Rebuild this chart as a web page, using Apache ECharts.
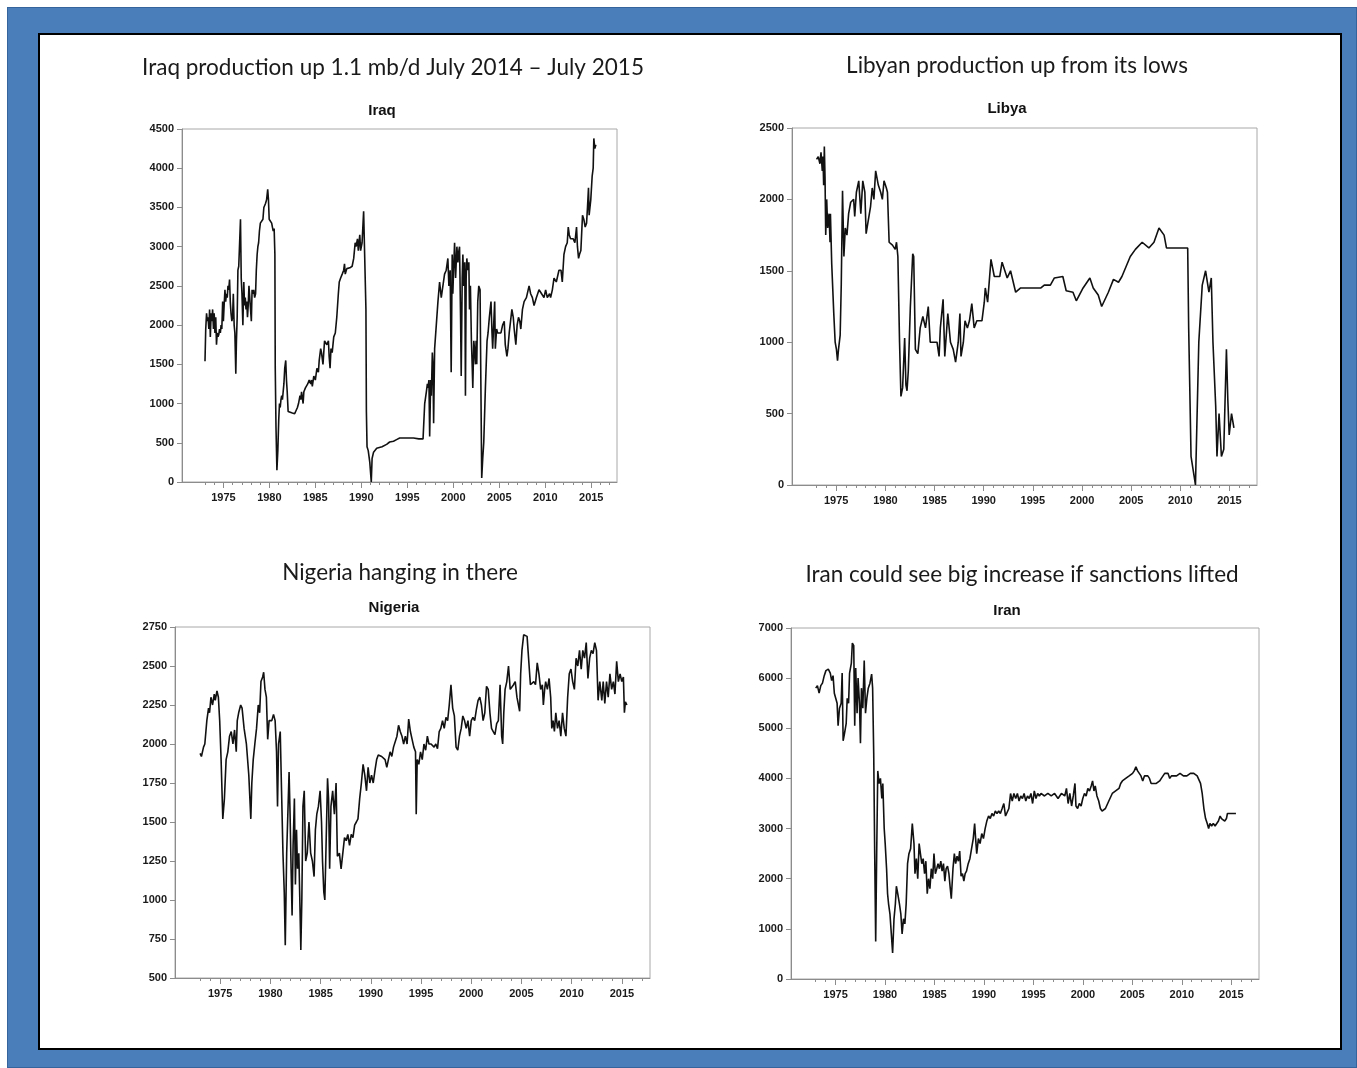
<!DOCTYPE html>
<html><head><meta charset="utf-8">
<script src="https://cdn.jsdelivr.net/npm/echarts/dist/echarts.min.js"></script>
<style>
html,body{margin:0;padding:0;background:#fff;width:1357px;height:1068px;overflow:hidden;}
#frame{position:absolute;left:7px;top:7px;width:1350px;height:1061px;background:#4a7ebb;box-shadow:inset 0 0 0 1px #35649c;}
#inner{position:absolute;left:38px;top:33px;width:1300px;height:1013px;background:#fff;border:2px solid #000;}
#chart{position:absolute;left:0;top:0;width:1357px;height:1068px;}
</style></head><body>
<div id="frame"></div><div id="inner"></div><div id="chart"></div>
<script>
// ---------- data (year, thousand b/d) ----------
const headlines = ["Iraq production up 1.1 mb/d July 2014 \u2013 July 2015","Libyan production up from its lows","Nigeria hanging in there","Iran could see big increase if sanctions lifted"];
const countries = ["Iraq","Libya","Nigeria","Iran"];
const majorYears = [1975,1980,1985,1990,1995,2000,2005,2010,2015];
const minorYears = [1973,1974,1975,1976,1977,1978,1979,1980,1981,1982,1983,1984,1985,1986,1987,1988,1989,1990,1991,1992,1993,1994,1995,1996,1997,1998,1999,2000,2001,2002,2003,2004,2005,2006,2007,2008,2009,2010,2011,2012,2013,2014,2015,2016,2017];

const iraq = [[1973.00,1540],[1973.08,1950],[1973.17,2150],[1973.25,2050],[1973.33,2100],[1973.42,1950],[1973.50,2200],[1973.58,1850],[1973.67,2150],[1973.75,2050],[1973.83,2200],[1973.92,1950],[1974.00,2150],[1974.08,1900],[1974.17,2100],[1974.25,1750],[1974.33,1900],[1974.42,1850],[1974.50,1880],[1974.58,1950],[1974.67,1900],[1974.75,2000],[1974.83,1950],[1974.92,2300],[1975.00,2050],[1975.08,2250],[1975.17,2450],[1975.25,2300],[1975.33,2400],[1975.42,2350],[1975.50,2500],[1975.58,2450],[1975.67,2580],[1975.75,2300],[1975.83,2150],[1975.92,2050],[1976.00,2100],[1976.08,2400],[1976.17,2000],[1976.25,1900],[1976.35,1380],[1976.42,1800],[1976.50,2100],[1976.58,2700],[1976.67,2750],[1976.75,3000],[1976.86,3350],[1976.94,2600],[1977.02,2400],[1977.12,2000],[1977.22,2550],[1977.30,2250],[1977.38,2350],[1977.46,2200],[1977.54,2300],[1977.62,2100],[1977.70,2250],[1977.78,2500],[1977.88,2500],[1977.96,2500],[1978.04,2050],[1978.12,2450],[1978.20,2400],[1978.30,2450],[1978.40,2350],[1978.50,2400],[1978.58,2700],[1978.67,2900],[1978.75,3000],[1978.83,3050],[1978.92,3200],[1979.02,3300],[1979.17,3300],[1979.30,3350],[1979.40,3500],[1979.58,3550],[1979.70,3600],[1979.82,3730],[1979.90,3600],[1979.98,3350],[1980.10,3350],[1980.25,3300],[1980.33,3250],[1980.42,3200],[1980.52,3230],[1980.60,2900],[1980.64,1450],[1980.72,700],[1980.82,150],[1980.92,400],[1981.02,800],[1981.10,1000],[1981.18,950],[1981.26,1050],[1981.34,1100],[1981.42,1050],[1981.50,1150],[1981.58,1250],[1981.67,1450],[1981.78,1550],[1981.86,1300],[1981.94,1150],[1982.04,900],[1982.25,900],[1982.50,880],[1982.75,870],[1982.90,860],[1983.05,950],[1983.17,1000],[1983.33,1100],[1983.42,1050],[1983.50,1150],[1983.67,1000],[1983.75,1150],[1983.92,1200],[1984.08,1200],[1984.17,1250],[1984.33,1300],[1984.50,1250],[1984.58,1300],[1984.67,1220],[1984.83,1350],[1985.00,1300],[1985.17,1450],[1985.33,1400],[1985.42,1550],[1985.58,1700],[1985.67,1650],[1985.75,1650],[1985.83,1500],[1986.00,1800],[1986.17,1800],[1986.25,1750],[1986.42,1800],[1986.50,1600],[1986.60,1450],[1986.70,1700],[1986.83,1650],[1987.00,1850],[1987.17,1900],[1987.33,2100],[1987.50,2400],[1987.60,2550],[1987.75,2600],[1987.92,2650],[1988.08,2700],[1988.17,2780],[1988.25,2650],[1988.42,2720],[1988.58,2700],[1988.75,2730],[1989.00,2750],[1989.17,2850],[1989.33,3050],[1989.42,3000],[1989.58,3100],[1989.67,2950],[1989.83,3150],[1989.92,2950],[1990.08,3050],[1990.25,3450],[1990.42,3450],[1990.50,2200],[1990.55,900],[1990.62,450],[1990.75,400],[1990.92,250],[1991.08,0],[1991.17,300],[1991.33,380],[1991.50,400],[1991.67,430],[1991.83,450],[1992.25,450],[1992.75,480],[1993.08,510],[1993.50,520],[1993.83,540],[1994.17,560],[1995.00,560],[1995.67,560],[1996.25,550],[1996.71,550],[1996.89,1000],[1997.07,1150],[1997.18,1250],[1997.25,1200],[1997.35,1300],[1997.43,580],[1997.54,1300],[1997.61,1100],[1997.72,1650],[1997.79,1500],[1997.86,750],[1997.97,1700],[1998.15,2000],[1998.33,2300],[1998.51,2550],[1998.69,2350],[1998.87,2500],[1999.05,2650],[1999.23,2700],[1999.41,2850],[1999.52,2500],[1999.66,2700],[1999.77,1400],[1999.88,2900],[1999.95,2400],[2000.03,2700],[2000.14,3050],[2000.25,2600],[2000.39,3000],[2000.50,2800],[2000.61,2950],[2000.68,3000],[2000.79,2100],[2000.86,1350],[2000.97,2600],[2001.04,2900],[2001.14,2500],[2001.25,2800],[2001.32,1100],[2001.40,2600],[2001.47,2850],[2001.58,2700],[2001.69,2800],[2001.76,2200],[2001.86,2500],[2001.97,1800],[2002.05,1500],[2002.12,1200],[2002.23,1800],[2002.30,1700],[2002.41,1500],[2002.48,1800],[2002.55,1500],[2002.66,2300],[2002.77,2500],[2002.91,2450],[2002.98,1500],[2003.09,50],[2003.20,300],[2003.31,500],[2003.49,1200],[2003.67,1800],[2003.78,1900],[2003.92,2100],[2004.10,2300],[2004.21,1900],[2004.28,1700],[2004.39,2000],[2004.50,2300],[2004.57,1700],[2004.71,1950],[2004.82,1900],[2005.18,1900],[2005.36,2000],[2005.54,2050],[2005.65,1750],[2005.83,1600],[2005.94,1700],[2006.08,1900],[2006.37,2200],[2006.52,2100],[2006.62,1950],[2006.80,1750],[2006.94,2000],[2007.09,2100],[2007.23,2050],[2007.34,1950],[2007.52,2200],[2007.70,2300],[2007.95,2350],[2008.24,2500],[2008.41,2400],[2008.60,2350],[2008.78,2250],[2009.03,2350],[2009.32,2450],[2009.60,2400],[2009.86,2350],[2010.04,2450],[2010.22,2350],[2010.47,2400],[2010.58,2350],[2010.77,2450],[2010.95,2600],[2011.20,2550],[2011.49,2700],[2011.71,2700],[2011.85,2550],[2012.03,2900],[2012.21,3000],[2012.39,3050],[2012.50,3250],[2012.61,3150],[2012.75,3100],[2013.04,3100],[2013.22,3050],[2013.40,3250],[2013.50,3000],[2013.62,2850],[2013.72,2900],[2013.87,2950],[2014.05,3400],[2014.19,3350],[2014.34,3250],[2014.49,3300],[2014.59,3500],[2014.70,3750],[2014.77,3400],[2014.95,3600],[2015.10,3900],[2015.21,4000],[2015.28,4380],[2015.39,4250],[2015.50,4300]];

const libya = [[1973.00,2280],[1973.17,2300],[1973.34,2250],[1973.45,2330],[1973.58,2200],[1973.65,2300],[1973.72,2100],[1973.79,2370],[1973.86,2150],[1973.93,1750],[1974.03,2000],[1974.13,1800],[1974.27,1900],[1974.37,1700],[1974.41,1900],[1974.54,1550],[1974.75,1200],[1974.89,1000],[1975.02,950],[1975.13,870],[1975.23,950],[1975.40,1050],[1975.51,1400],[1975.64,2060],[1975.78,1600],[1975.92,1800],[1976.09,1750],[1976.26,1900],[1976.47,1980],[1976.77,2000],[1976.88,1880],[1977.05,2050],[1977.29,2130],[1977.50,1900],[1977.70,2130],[1977.91,2050],[1978.04,1760],[1978.25,1850],[1978.49,1950],[1978.66,2080],[1978.83,2000],[1979.01,2200],[1979.28,2100],[1979.52,2050],[1979.69,2000],[1979.86,2130],[1980.10,2080],[1980.21,2050],[1980.38,1700],[1980.72,1680],[1981.00,1650],[1981.13,1700],[1981.27,1600],[1981.44,1000],[1981.58,620],[1981.75,680],[1981.96,1030],[1982.09,700],[1982.20,660],[1982.33,800],[1982.54,1250],[1982.78,1620],[1982.88,1600],[1983.05,950],[1983.30,920],[1983.54,1100],[1983.81,1180],[1984.08,1100],[1984.36,1250],[1984.56,1000],[1985.25,1000],[1985.46,900],[1985.59,1100],[1985.87,1300],[1986.04,900],[1986.35,1200],[1986.62,1000],[1986.90,950],[1987.14,860],[1987.41,1000],[1987.58,1200],[1987.69,900],[1987.93,1000],[1988.10,1150],[1988.34,1100],[1988.55,1150],[1988.79,1270],[1989.03,1100],[1989.30,1150],[1989.82,1150],[1990.06,1280],[1990.16,1380],[1990.40,1280],[1990.74,1580],[1991.08,1460],[1991.63,1460],[1991.87,1560],[1992.39,1450],[1992.73,1500],[1993.25,1350],[1993.76,1380],[1995.82,1380],[1996.16,1400],[1996.78,1400],[1997.19,1450],[1998.05,1460],[1998.39,1360],[1999.08,1350],[1999.42,1290],[2000.11,1380],[2000.80,1450],[2001.14,1380],[2001.65,1330],[2002.00,1250],[2002.68,1350],[2003.20,1440],[2003.71,1420],[2004.06,1460],[2004.91,1600],[2005.43,1650],[2006.12,1700],[2006.80,1660],[2007.32,1700],[2007.83,1800],[2008.35,1750],[2008.59,1660],[2010.75,1660],[2010.85,1100],[2011.09,200],[2011.54,0],[2011.88,1000],[2012.23,1400],[2012.57,1500],[2012.91,1350],[2013.15,1450],[2013.32,1000],[2013.60,550],[2013.73,200],[2013.94,500],[2014.18,200],[2014.42,250],[2014.69,950],[2014.83,600],[2014.97,350],[2015.21,500],[2015.45,400]];

const nigeria = [[1973.00,1940],[1973.13,1920],[1973.34,1980],[1973.47,2000],[1973.67,2150],[1973.84,2230],[1973.94,2200],[1974.08,2300],[1974.24,2250],[1974.41,2320],[1974.51,2280],[1974.68,2340],[1974.82,2300],[1974.95,2150],[1975.09,1900],[1975.26,1520],[1975.42,1650],[1975.59,1900],[1975.76,1950],[1975.93,2050],[1976.10,2080],[1976.27,2000],[1976.43,2090],[1976.60,1950],[1976.70,2150],[1976.84,2200],[1977.04,2250],[1977.18,2230],[1977.38,2100],[1977.61,2000],[1977.85,1800],[1978.05,1520],[1978.15,1750],[1978.29,1900],[1978.45,2000],[1978.62,2100],[1978.79,2250],[1978.93,2200],[1979.06,2400],[1979.23,2430],[1979.33,2460],[1979.46,2350],[1979.60,2300],[1979.73,2030],[1979.87,2150],[1980.14,2150],[1980.31,2190],[1980.47,2150],[1980.61,1950],[1980.71,1600],[1980.81,2000],[1980.98,2080],[1981.11,1700],[1981.25,1300],[1981.38,1050],[1981.48,710],[1981.62,1300],[1981.75,1580],[1981.86,1820],[1981.96,1550],[1982.06,1200],[1982.16,900],[1982.26,1350],[1982.39,1650],[1982.49,1100],[1982.60,1450],[1982.70,1200],[1982.83,1300],[1982.93,1000],[1983.03,680],[1983.13,1000],[1983.24,1600],[1983.37,1700],[1983.51,1250],[1983.67,1300],[1983.84,1500],[1984.01,1300],[1984.18,1250],[1984.35,1150],[1984.48,1450],[1984.62,1550],[1984.78,1600],[1984.95,1700],[1985.09,1500],[1985.19,1250],[1985.32,1050],[1985.42,1000],[1985.56,1400],[1985.69,1780],[1985.79,1650],[1985.90,1200],[1986.03,1600],[1986.20,1700],[1986.37,1550],[1986.54,1750],[1986.67,1280],[1986.87,1300],[1987.04,1200],[1987.21,1200],[1987.38,1400],[1987.55,1380],[1987.71,1420],[1987.88,1350],[1988.05,1420],[1988.22,1400],[1988.39,1480],[1988.56,1500],[1988.72,1520],[1988.89,1650],[1989.06,1750],[1989.23,1870],[1989.40,1800],[1989.57,1700],[1989.73,1850],[1989.90,1750],[1990.07,1800],[1990.24,1750],[1990.41,1830],[1990.58,1900],[1990.74,1930],[1991.08,1920],[1991.42,1900],[1991.59,1850],[1991.75,1900],[1991.92,1950],[1992.09,1920],[1992.26,1980],[1992.60,2050],[1992.76,2120],[1992.93,2080],[1993.10,2050],[1993.27,2000],[1993.44,2050],[1993.61,2000],[1993.77,2160],[1993.94,2080],[1994.11,2030],[1994.28,1980],[1994.45,1950],[1994.52,1550],[1994.62,1900],[1994.78,1870],[1994.95,1950],[1995.12,1900],[1995.29,2000],[1995.46,1960],[1995.63,2050],[1995.79,2000],[1996.00,2000],[1996.13,2010],[1996.30,1980],[1996.47,2000],[1996.64,1970],[1996.81,2080],[1996.97,2100],[1997.14,2150],[1997.31,2100],[1997.48,2170],[1997.65,2150],[1997.81,2250],[1997.98,2380],[1998.15,2230],[1998.32,2180],[1998.49,1980],[1998.66,1960],[1998.83,2050],[1999.00,2100],[1999.16,2180],[1999.33,2150],[1999.50,2100],[1999.67,2150],[1999.84,2050],[2000.00,2150],[2000.17,2170],[2000.34,2150],[2000.51,2220],[2000.68,2280],[2000.85,2300],[2001.01,2250],[2001.18,2150],[2001.35,2200],[2001.52,2370],[2001.69,2350],[2001.86,2200],[2002.02,2100],[2002.19,2080],[2002.36,2060],[2002.53,2130],[2002.70,2150],[2002.87,2380],[2003.03,2050],[2003.13,2000],[2003.24,2200],[2003.37,2350],[2003.54,2400],[2003.71,2500],[2003.88,2350],[2004.04,2350],[2004.21,2380],[2004.38,2400],[2004.55,2300],[2004.72,2300],[2004.82,2210],[2004.92,2450],[2005.05,2600],[2005.22,2700],[2005.39,2700],[2005.56,2690],[2005.73,2700],[2005.89,2380],[2006.06,2370],[2006.23,2400],[2006.40,2380],[2006.57,2520],[2006.74,2450],[2006.91,2350],[2007.08,2380],[2007.18,2250],[2007.31,2350],[2007.41,2400],[2007.58,2350],[2007.75,2420],[2007.91,2300],[2008.02,2100],[2008.15,2150],[2008.28,2080],[2008.42,2200],[2008.59,2100],[2008.75,2150],[2008.92,2050],[2009.09,2200],[2009.26,2100],[2009.43,2050],[2009.60,2300],[2009.76,2450],[2009.93,2480],[2010.10,2400],[2010.27,2350],[2010.44,2550],[2010.61,2500],[2010.78,2600],[2010.95,2480],[2011.11,2600],[2011.28,2550],[2011.45,2650],[2011.62,2420],[2011.79,2550],[2011.96,2600],[2012.13,2580],[2012.30,2650],[2012.47,2600],[2012.63,2280],[2012.80,2400],[2013.00,2280],[2013.14,2400],[2013.30,2260],[2013.47,2400],[2013.64,2300],[2013.81,2450],[2013.98,2350],[2014.15,2400],[2014.31,2320],[2014.48,2530],[2014.65,2400],[2014.82,2450],[2014.99,2400],[2015.15,2430],[2015.25,2200],[2015.35,2270],[2015.50,2250]];

const iran = [[1973.00,5800],[1973.17,5850],[1973.34,5700],[1973.51,5850],[1973.68,5900],[1973.86,6050],[1974.03,6150],[1974.27,6180],[1974.47,6100],[1974.61,5950],[1974.75,6050],[1974.88,5700],[1975.02,5600],[1975.16,5500],[1975.26,5050],[1975.40,5400],[1975.57,5500],[1975.67,6100],[1975.77,4750],[1975.91,4900],[1976.08,5100],[1976.18,5600],[1976.32,5500],[1976.42,6100],[1976.60,6300],[1976.70,6700],[1976.84,6650],[1976.94,5050],[1977.04,6200],[1977.18,5300],[1977.28,6000],[1977.42,5500],[1977.52,4700],[1977.62,5800],[1977.76,5400],[1977.90,6350],[1978.03,5300],[1978.17,5600],[1978.31,5800],[1978.48,5900],[1978.65,6080],[1978.75,5800],[1978.86,4500],[1978.96,2500],[1979.06,750],[1979.16,2500],[1979.27,4150],[1979.40,3900],[1979.54,4000],[1979.68,3600],[1979.78,3900],[1979.92,3000],[1980.02,2700],[1980.16,2200],[1980.26,1700],[1980.36,1500],[1980.50,1300],[1980.64,900],[1980.77,520],[1980.91,1200],[1981.05,1500],[1981.15,1850],[1981.29,1700],[1981.46,1500],[1981.60,1300],[1981.73,900],[1981.87,1200],[1982.01,1100],[1982.14,1500],[1982.28,2300],[1982.42,2500],[1982.59,2600],[1982.76,3100],[1982.93,2700],[1983.03,2100],[1983.17,2400],[1983.31,2000],[1983.45,2700],[1983.58,2500],[1983.72,2300],[1983.86,2400],[1984.00,2100],[1984.13,2350],[1984.27,1700],[1984.40,2000],[1984.54,1800],[1984.68,2200],[1984.82,2000],[1984.95,2500],[1985.09,2100],[1985.23,2200],[1985.36,2300],[1985.50,2200],[1985.64,2350],[1985.77,2150],[1985.91,2300],[1986.05,1950],[1986.18,2200],[1986.32,2250],[1986.46,2100],[1986.60,1800],[1986.70,1600],[1986.87,2200],[1987.01,2500],[1987.14,2300],[1987.28,2450],[1987.42,2350],[1987.55,2550],[1987.69,2050],[1987.83,2100],[1987.97,1950],[1988.10,2100],[1988.24,2150],[1988.41,2300],[1988.58,2400],[1988.75,2600],[1988.92,2800],[1989.06,3100],[1989.16,2800],[1989.27,2500],[1989.44,2800],[1989.61,2700],[1989.78,2900],[1989.95,2800],[1990.12,3000],[1990.29,3150],[1990.47,3250],[1990.64,3200],[1990.81,3300],[1990.98,3250],[1991.15,3350],[1991.32,3300],[1991.49,3350],[1991.66,3300],[1991.84,3400],[1992.01,3500],[1992.18,3250],[1992.35,3250],[1992.52,3400],[1992.69,3700],[1992.86,3550],[1993.03,3700],[1993.21,3600],[1993.38,3700],[1993.55,3550],[1993.72,3650],[1993.89,3600],[1994.06,3700],[1994.23,3550],[1994.40,3650],[1994.58,3600],[1994.75,3700],[1994.92,3500],[1995.09,3750],[1995.26,3600],[1995.43,3700],[1995.60,3650],[1995.77,3700],[1996.12,3650],[1996.46,3700],[1996.80,3650],[1997.14,3700],[1997.49,3600],[1997.83,3700],[1998.17,3650],[1998.34,3800],[1998.51,3500],[1998.68,3700],[1998.86,3450],[1999.03,3650],[1999.20,3900],[1999.30,3450],[1999.47,3400],[1999.64,3500],[1999.82,3450],[1999.99,3600],[2000.16,3700],[2000.33,3650],[2000.50,3800],[2000.67,3750],[2000.84,3850],[2000.98,3950],[2001.12,3750],[2001.25,3850],[2001.42,3650],[2001.60,3550],[2001.77,3400],[2001.94,3350],[2002.28,3400],[2002.62,3550],[2002.97,3700],[2003.31,3750],[2003.65,3800],[2003.82,3900],[2003.99,3950],[2004.33,4000],[2004.68,4050],[2005.02,4100],[2005.19,4150],[2005.36,4230],[2005.53,4150],[2005.70,4100],[2005.87,4050],[2006.05,3950],[2006.22,4050],[2006.56,4050],[2006.73,4000],[2006.90,3900],[2007.42,3900],[2007.76,3950],[2007.93,4000],[2008.10,4050],[2008.27,4100],[2008.61,4100],[2008.78,4000],[2008.95,4050],[2009.47,4050],[2009.82,4100],[2009.99,4100],[2010.16,4050],[2010.51,4050],[2010.86,4100],[2011.21,4100],[2011.55,4050],[2011.89,3900],[2012.06,3700],[2012.23,3400],[2012.40,3200],[2012.57,3100],[2012.71,3000],[2012.84,3100],[2013.01,3050],[2013.18,3100],[2013.36,3050],[2013.53,3100],[2013.70,3150],[2013.87,3250],[2014.01,3200],[2014.21,3200],[2014.34,3150],[2014.51,3200],[2014.61,3300],[2014.96,3300],[2015.47,3300]];

const seriesData = [iraq, libya, nigeria, iran];
const yMin = [0, 0, 500, 0];
const yMax = [4500, 2500, 2750, 7000];
const yStep = [500, 500, 250, 1000];
const X_MIN = 1970.5, X_MAX = 2017.8;

// ---------- layout (pixels) ----------
const grids = [
  {left:182, top:129, width:435, height:353},
  {left:792, top:128, width:465, height:357},
  {left:175, top:627, width:475, height:351},
  {left:791, top:628, width:468, height:351}
];
const headPos = [[393,68],[1017,66],[400,573],[1022,575]];
const subPos = [[382,111],[1007,109],[394,608],[1007,611]];

const axisGray = '#8c8c8c';
const labelStyle = {fontFamily:'Liberation Sans, Arial, sans-serif', fontSize:11, fontWeight:'bold', color:'#1a1a1a'};

const xAxes = [], yAxes = [], series = [], graphics = [];
grids.forEach((g, i) => {
  xAxes.push({
    type:'value', gridIndex:i, min:X_MIN, max:X_MAX, position:'bottom',
    axisLine:{show:true, lineStyle:{color:axisGray, width:1}},
    axisTick:{show:true, customValues:majorYears, length:6, lineStyle:{color:axisGray}},
    axisLabel:Object.assign({customValues:majorYears, margin:10, formatter:v=>String(Math.round(v))}, labelStyle),
    splitLine:{show:false}
  });
  xAxes.push({
    type:'value', gridIndex:i, min:X_MIN, max:X_MAX, position:'bottom',
    axisLine:{show:false},
    axisTick:{show:true, customValues:minorYears, length:3, lineStyle:{color:axisGray}},
    axisLabel:{show:false},
    splitLine:{show:false}
  });
  yAxes.push({
    type:'value', gridIndex:i, min:yMin[i], max:yMax[i], interval:yStep[i],
    axisLine:{show:true, lineStyle:{color:axisGray, width:1}},
    axisTick:{show:true, length:5, lineStyle:{color:axisGray}},
    axisLabel:Object.assign({margin:8, formatter:v=>String(v)}, labelStyle),
    splitLine:{show:false}
  });
  series.push({
    type:'line', xAxisIndex:i*2, yAxisIndex:i, data:seriesData[i],
    showSymbol:false, symbol:'none', smooth:false, sampling:null,
    lineStyle:{color:'#111', width:1.6}, z:5
  });
  graphics.push({
    type:'text', x:headPos[i][0], y:headPos[i][1],
    style:{text:headlines[i], fill:'#1a1a1a', font:'22.5px Lato, "Open Sans", sans-serif', textAlign:'center', textVerticalAlign:'middle'}
  });
  graphics.push({
    type:'text', x:subPos[i][0], y:subPos[i][1],
    style:{text:countries[i], fill:'#111', font:'bold 15px "Liberation Sans", Arial, sans-serif', textAlign:'center', textVerticalAlign:'middle'}
  });
});

const chart = echarts.init(document.getElementById('chart'), null, {renderer:'canvas'});
chart.setOption({
  backgroundColor:'transparent',
  animation:false,
  grid: grids.map(g => Object.assign({show:true, borderColor:'#a8a8a8', borderWidth:1, backgroundColor:'transparent', containLabel:false}, g)),
  xAxis:xAxes, yAxis:yAxes, series:series, graphic:graphics
});
</script>
</body></html>
